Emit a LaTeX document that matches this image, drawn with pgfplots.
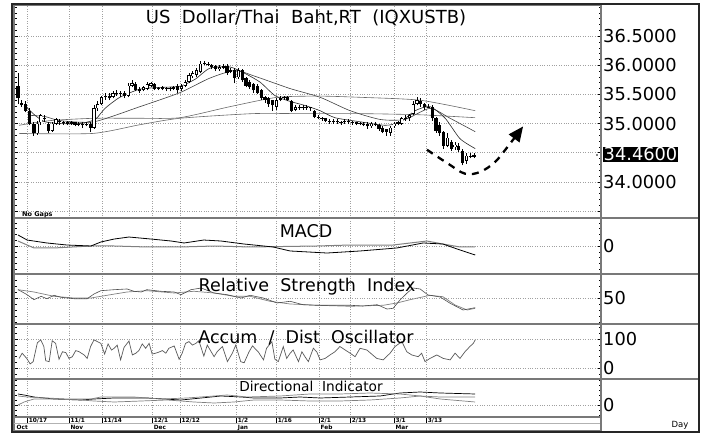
\documentclass[border=0pt]{standalone}
\usepackage{fontspec}
\setmainfont{DejaVu Sans}
\usepackage{pgfplots}
\usepackage{pgfplotstable}
\pgfplotsset{compat=1.18}
\usetikzlibrary{arrows.meta}

\definecolor{gridgray}{RGB}{160,160,160}
\definecolor{framegray}{RGB}{120,120,120}
\definecolor{magray}{RGB}{105,105,105}

\newcommand{\lbl}{\fontsize{17.5pt}{18pt}\selectfont}
\newcommand{\ttllbl}{\fontsize{18pt}{18pt}\selectfont}
\newcommand{\ticklbl}{\fontsize{17.8pt}{18pt}\selectfont}
\newcommand{\dilbl}{\fontsize{13.7pt}{14pt}\selectfont}
\newcommand{\datefont}{\fontsize{5.8pt}{6pt}\selectfont\bfseries}

% daily candles: index, open, high, low, close
\pgfplotstableread{
i o h l c
0 35.65 35.86 35.34 35.43
1 35.36 35.40 35.28 35.31
2 35.34 35.38 35.19 35.22
3 35.22 35.26 34.97 35.00
4 35.00 35.03 34.79 34.83
5 34.83 35.05 34.81 35.00
6 35.02 35.17 34.98 35.14
7 35.10 35.14 35.03 35.07
8 35.00 35.03 34.84 34.88
9 34.88 35.03 34.86 35.00
10 35.00 35.10 34.98 35.07
11 35.05 35.07 34.98 35.02
12 35.02 35.05 34.98 35.01
13 35.02 35.05 34.97 35.00
14 35.00 35.05 34.98 35.03
15 35.02 35.03 34.95 34.98
16 34.98 35.02 34.95 35.00
17 35.00 35.02 34.93 34.97
18 34.97 35.03 34.95 35.00
19 35.00 35.02 34.86 34.93
20 34.93 35.31 34.91 35.26
21 35.26 35.38 35.22 35.34
22 35.33 35.48 35.31 35.45
23 35.45 35.52 35.41 35.48
24 35.48 35.52 35.40 35.43
25 35.45 35.55 35.43 35.52
26 35.50 35.57 35.48 35.53
27 35.53 35.55 35.45 35.50
28 35.52 35.55 35.43 35.47
29 35.48 35.69 35.45 35.65
30 35.64 35.74 35.62 35.69
31 35.67 35.71 35.55 35.57
32 35.60 35.62 35.52 35.55
33 35.57 35.64 35.55 35.62
34 35.60 35.71 35.57 35.67
35 35.65 35.72 35.62 35.69
36 35.67 35.69 35.57 35.60
37 35.60 35.62 35.57 35.59
38 35.60 35.64 35.57 35.62
39 35.60 35.62 35.55 35.59
40 35.59 35.62 35.55 35.60
41 35.60 35.64 35.57 35.62
42 35.65 35.67 35.53 35.57
43 35.59 35.67 35.55 35.64
44 35.64 35.74 35.62 35.71
45 35.71 35.86 35.69 35.83
46 35.81 35.90 35.78 35.86
47 35.83 35.95 35.79 35.91
48 35.88 36.07 35.86 36.03
49 36.03 36.07 36.00 36.02
50 36.02 36.05 35.98 36.00
51 36.00 36.02 35.93 35.97
52 35.98 36.00 35.90 35.93
53 35.93 36.00 35.90 35.97
54 35.95 36.02 35.93 35.98
55 35.98 36.02 35.83 35.86
56 35.88 35.95 35.86 35.91
57 35.91 35.95 35.69 35.78
58 35.79 35.95 35.76 35.91
59 35.91 35.93 35.71 35.74
60 35.78 35.79 35.62 35.65
61 35.71 35.74 35.59 35.62
62 35.67 35.69 35.53 35.57
63 35.64 35.67 35.50 35.53
64 35.57 35.59 35.40 35.43
65 35.45 35.48 35.36 35.40
66 35.43 35.45 35.29 35.33
67 35.40 35.41 35.22 35.31
68 35.28 35.43 35.24 35.40
69 35.41 35.47 35.38 35.43
70 35.43 35.48 35.40 35.45
71 35.45 35.47 35.38 35.41
72 35.38 35.40 35.19 35.22
73 35.24 35.31 35.21 35.28
74 35.28 35.31 35.24 35.26
75 35.26 35.31 35.24 35.28
76 35.28 35.31 35.24 35.27
77 35.28 35.29 35.22 35.26
78 35.22 35.24 35.09 35.12
79 35.12 35.14 35.07 35.10
80 35.10 35.12 35.05 35.09
81 35.09 35.10 35.02 35.05
82 35.05 35.07 35.00 35.03
83 35.03 35.07 35.00 35.05
84 35.05 35.07 35.00 35.03
85 35.03 35.05 34.98 35.02
86 35.02 35.07 35.00 35.05
87 35.05 35.07 35.00 35.03
88 35.03 35.05 34.98 35.02
89 35.02 35.03 34.97 35.00
90 35.00 35.03 34.97 35.01
91 35.00 35.02 34.95 34.98
92 35.00 35.02 34.91 34.95
93 34.95 35.02 34.93 35.00
94 35.00 35.02 34.95 34.98
95 34.98 35.00 34.88 34.91
96 34.93 34.95 34.83 34.86
97 34.90 34.91 34.79 34.86
98 34.84 34.95 34.79 34.93
99 34.95 35.02 34.93 35.00
100 35.00 35.05 34.97 35.02
101 35.00 35.12 34.98 35.09
102 35.07 35.14 35.05 35.10
103 35.09 35.17 35.05 35.14
104 35.17 35.38 35.14 35.34
105 35.33 35.45 35.31 35.40
106 35.38 35.43 35.29 35.33
107 35.33 35.36 35.24 35.28
108 35.29 35.33 35.26 35.28
109 35.28 35.31 35.05 35.09
110 35.09 35.12 34.84 34.88
111 34.98 35.02 34.79 34.83
112 34.86 34.88 34.57 34.62
113 34.62 34.83 34.59 34.76
114 34.69 34.72 34.53 34.57
115 34.59 34.69 34.55 34.64
116 34.62 34.66 34.52 34.55
117 34.53 34.57 34.28 34.33
118 34.36 34.50 34.31 34.45
119 34.43 34.50 34.40 34.45
120 34.43 34.50 34.40 34.46
}\candles

\pgfplotsset{
  panel/.style={
    scale only axis, width=587pt, anchor=north west,
    xmin=-1.05, xmax=153.4,
    xtick={2.4,13.4,22.1,35.3,42.6,57.4,67.9,79.2,87.4,98.9,107.4},
    xticklabels={},
    xmajorgrids, ymajorgrids,
    grid style={gridgray, dotted, line width=0.6pt},
    axis line style={framegray, line width=1.3pt},
    xtick style={draw=none},
    ytick style={black, line width=0.5pt},
    tick align=inside, major tick length=3.5pt, minor tick length=2.5pt,
    yticklabel pos=right, ytick pos=both,
    yticklabel style={anchor=west, inner sep=0pt, xshift=2pt, font=\ticklbl},
  },
  maline/.style={line width=0.6pt, smooth, tension=0.4},
}

\begin{document}
\begin{tikzpicture}[x=1pt, y=1pt]
\path (0,0) rectangle (712,-435);

% ---- price panel
\begin{axis}[panel, name=main, at={(14pt,-5pt)}, height=213pt,
  ymin=33.379, ymax=37.034,
  ytick={33.5,34,34.5,35,35.5,36,36.5},
  yticklabels={,34.0000,,35.0000,35.5000,36.0000,36.5000},
  minor ytick={33.4,33.5,...,37.0}]
  % moving averages
  \addplot[maline, magray] coordinates {
    (0.3,34.83) (19.7,34.83) (32.1,34.98) (42.6,35.09) (61.8,35.17)
    (74.2,35.17) (90.0,35.17) (105.8,35.15) (120.3,35.10)};
  \addplot[maline, magray] coordinates {
    (0.3,34.97) (8.4,35.05) (20.0,35.09) (32.1,35.09) (42.6,35.10)
    (55.8,35.29) (68.2,35.45) (79.5,35.47) (90.0,35.45) (105.8,35.40) (120.3,35.22)};
  \addplot[maline, black!75] coordinates {
    (3.2,35.14) (7.1,35.12) (11.1,35.05) (20.0,35.03) (32.1,35.29) (42.6,35.53)
    (50.5,35.78) (57.1,35.91) (62.4,35.81) (71.6,35.60) (79.5,35.45) (87.4,35.22)
    (95.3,35.07) (101.8,35.07) (108.4,35.26) (113.7,35.09) (120.3,34.86)};
  \addplot[maline, black!85] coordinates {
    (1.8,35.31) (4.5,35.14) (7.1,35.03) (11.1,35.00) (16.3,35.00) (20.3,35.07)
    (22.9,35.26) (26.8,35.45) (32.1,35.59) (37.4,35.62) (42.6,35.64) (46.6,35.76)
    (50.5,35.95) (55.8,35.97) (59.7,35.86) (63.7,35.71) (67.6,35.48) (71.6,35.38)
    (75.5,35.31) (79.5,35.22) (83.4,35.10) (90.0,35.03) (96.6,34.97) (100.5,35.02)
    (104.5,35.22) (108.4,35.29) (112.4,35.09) (116.3,34.74) (120.3,34.57)};
  % wicks
  \addplot[draw=none, mark=none, error bars/.cd, y dir=plus, y explicit,
    error mark=none, error bar style={draw=black, line width=0.8pt}]
    table[x=i, y=l, y error expr=\thisrow{h}-\thisrow{l}] {\candles};
  % bodies
  \addplot[draw=none, mark=none, error bars/.cd, y dir=plus, y explicit,
    error mark=none, error bar style={draw=black, line width=3.2pt}]
    table[x=i, y expr={min(\thisrow{o},\thisrow{c})},
      y error expr={max(abs(\thisrow{o}-\thisrow{c}),0.012)}] {\candles};
  % hollow centres of rising candles
  \addplot[draw=none, mark=none, error bars/.cd, y dir=plus, y explicit,
    error mark=none, error bar style={draw=white, line width=1.6pt}]
    table[x=i, y expr={(\thisrow{c}-\thisrow{o}>0.03) ? \thisrow{o}+0.014 : nan},
      y error expr={\thisrow{c}-\thisrow{o}-0.028}] {\candles};
  % hand-drawn forecast arrow
  \addplot[black, line width=2.3pt, dash pattern=on 7pt off 6pt, smooth, tension=0.6,
    -{Triangle[length=15pt, width=13pt]}] coordinates {
    (107.6,34.55) (113.2,34.31) (117.6,34.14) (121.6,34.17) (125.5,34.34)
    (128.7,34.59) (132.9,34.95)};
\end{axis}

% ---- MACD
\begin{axis}[panel, name=macd, at={(main.south west)}, height=56pt,
  ymin=-0.483, ymax=0.483, ytick={0}, yticklabels={0},
  minor ytick={-0.4,-0.3,...,0.4}]
  \addplot[line width=1pt, gray] coordinates {
    (0,0.086) (4.2,-0.034) (9.5,-0.034) (19.2,0) (25.3,0) (33.9,-0.017)
    (42.9,-0.017) (51.6,0) (61.1,-0.017) (78.7,0) (87.4,0.017) (98.7,0.017)
    (107.6,0.086) (111.8,0.034) (116.3,-0.017) (120.3,-0.017)};
  \addplot[line width=0.8pt, black] coordinates {
    (0,0.19) (2.4,0.103) (7.6,0.052) (12.9,0.017) (19.2,0) (21.8,0.069)
    (25.3,0.12) (29.2,0.155) (35.0,0.12) (40.3,0.086) (43.7,0.052) (48.9,0.103)
    (53.4,0.086) (59.5,0.034) (62.1,0.017) (67.1,-0.017) (71.6,-0.086)
    (81.3,-0.121) (90.0,-0.086) (99.7,-0.034) (106.6,0.052) (111.8,0.034)
    (116.3,-0.069) (120.3,-0.155)};
\end{axis}

% ---- RSI
\begin{axis}[panel, name=rsi, at={(macd.south west)}, height=50pt,
  ymin=-4.2, ymax=100, ytick={50}, yticklabels={50},
  minor ytick={0,12.5,...,100}]
  \addplot[line width=0.7pt, gray] coordinates {
    (0,67.3) (4.2,62.5) (9.5,53.5) (14.7,50) (19.2,50) (23.4,55.6) (28.7,62.5)
    (33.9,65.2) (41.1,60.4) (46.3,64) (51.6,60.4) (56.8,53.5) (61.1,53.5)
    (66.3,43.1) (71.6,37.5) (78.7,34.8) (87.4,32.7) (96.1,34.8) (99.7,39.6)
    (103.2,46.5) (108.4,55.6) (111.8,52.7) (115.0,35.4) (118.2,25) (120.3,28.5)};
  \addplot[line width=0.6pt, black!70] coordinates {
    (0,67.3) (0.8,64) (2.4,56.9) (4.2,46.5) (6.1,53.5) (7.6,48.5) (9.5,55.6)
    (11.3,51.5) (12.9,50) (14.7,48.5) (18.2,48.5) (20.0,58.3) (21.8,65.2)
    (25.3,67.3) (28.7,68.8) (30.5,64) (32.4,62.5) (33.9,67.3) (37.6,64)
    (41.1,62.5) (42.9,56.9) (45.5,67.3) (48.2,70.8) (51.6,60.4) (55.0,56.9)
    (58.7,50) (61.1,55.6) (64.5,50) (68.2,39.6) (71.6,43.1) (75.0,36)
    (78.7,34.8) (83.9,34.8) (87.4,34.8) (90.8,33.3) (94.5,36) (97.1,27)
    (98.7,28.5) (100.5,45.8) (102.4,60.4) (103.9,70.8) (105.8,68.8)
    (107.9,56.3) (111.1,52) (113.7,39) (117.1,25) (120.3,29.8)};
\end{axis}

% ---- Accumulation / distribution oscillator
\begin{axis}[panel, name=ad, at={(rsi.south west)}, height=55pt,
  ymin=-37.9, ymax=151.7, ytick={0,100}, yticklabels={0,100},
  minor ytick={-20,20,40,60,80,120,140}]
  \addplot[line width=0.7pt, black!65] coordinates {
    (0.3,33) (1.1,51) (2.3,33) (3.2,14) (4.0,22) (5.1,87) (6.0,97) (6.8,74)
    (7.3,25) (8.2,22) (9.0,94) (9.9,85) (10.8,30) (11.7,56) (12.6,53) (13.4,33)
    (14.3,39) (15.2,60) (16.1,56) (17.4,45) (18.2,33) (19.1,74) (20.0,97)
    (20.9,91) (21.8,85) (22.8,48) (23.7,83) (24.6,62) (25.3,68) (26.1,79)
    (27.0,28) (27.9,71) (29.2,93) (30.1,45) (31.0,51) (31.8,60) (32.7,83)
    (33.6,68) (34.5,85) (35.3,48) (36.2,51) (37.1,55) (38.0,60) (38.9,51)
    (39.7,68) (41.1,76) (42.4,30) (43.2,51) (44.1,85) (45.0,91) (45.9,79)
    (46.8,85) (47.6,94) (48.9,41) (49.8,79) (51.6,39) (52.4,56) (53.8,74)
    (55.1,22) (56.4,51) (57.3,79) (58.6,22) (59.5,18) (60.8,56) (61.7,76)
    (63.2,56) (64.6,28) (65.4,68) (66.8,91) (67.6,30) (68.5,22) (69.8,74)
    (70.7,33) (71.6,51) (72.4,62) (73.8,22) (74.7,56) (75.5,39) (76.4,22)
    (77.7,68) (78.6,56) (79.5,28) (80.8,33) (82.1,45) (83.4,56) (84.7,74)
    (86.1,62) (87.4,51) (88.7,39) (90.0,68) (91.8,62) (94.4,33) (96.1,28)
    (97.9,51) (99.2,74) (101.0,91) (102.3,56) (103.6,45) (105.3,39) (106.2,51)
    (107.1,22) (108.4,33) (110.2,45) (111.9,33) (113.7,28) (115.0,51)
    (116.3,33) (117.6,56) (118.9,74) (119.8,85) (120.3,97)};
\end{axis}

% ---- Directional indicator
\begin{axis}[panel, name=di, at={(ad.south west)}, height=38pt,
  ymin=-24, ymax=52, ytick={0}, yticklabels={0},
  minor ytick={-20,-10,10,20,30,40,50}]
  \addplot[line width=0.7pt, black] coordinates {
    (0,22) (1.6,20) (4.2,16) (9.5,12) (16.6,10) (20.0,12) (25.3,14) (33.9,14)
    (42.9,10) (48.2,14) (53.4,18) (58.7,16) (62.1,14) (69.0,14) (74.2,16)
    (79.5,14) (87.4,16) (95.3,18) (100.5,24) (105.8,26) (111.1,24) (120.3,22)};
  \addplot[line width=0.7pt, gray] coordinates {
    (0,18) (2.4,16) (7.6,14) (12.9,12) (19.2,12) (21.8,16) (25.3,16) (30.5,16)
    (37.6,12) (44.5,14) (51.6,18) (55.0,20) (60.3,16) (69.0,18) (76.8,22)
    (84.7,22) (92.6,24) (100.5,22) (105.8,18) (111.1,16) (120.3,16)};
  \addplot[line width=0.7pt, gray] coordinates {
    (0,0) (1.6,6) (4.2,12) (9.5,12) (16.6,10) (20.0,8) (25.3,6) (32.4,8)
    (39.2,10) (42.9,8) (46.3,6) (51.6,4) (56.8,6) (62.1,10) (69.0,10) (76.8,8)
    (84.7,8) (92.6,10) (100.5,14) (105.8,18) (111.1,12) (120.3,6)};
\end{axis}

% ---- date strip
\begin{axis}[scale only axis, width=587pt, height=14pt, anchor=north west,
  at={(di.south west)},
  xmin=-1.05, xmax=153.4, ymin=0, ymax=1, ytick=\empty,
  axis line style={framegray, line width=1.3pt},
  xtick={2.4,13.4,22.1,35.3,42.6,57.4,67.9,79.2,87.4,98.9,107.4},
  xticklabels={10/17,11/1,11/14,12/1,12/12,1/2,1/16,2/1,2/13,3/1,3/13},
  xtick pos=right, xticklabel pos=left,
  tick align=inside, major tick length=6pt, xtick style={black, line width=0.7pt},
  xticklabel style={anchor=west, inner sep=0pt, xshift=1.5pt, yshift=10.5pt, font=\datefont},
  extra x ticks={-0.8,13.4,35.3,57.4,79.2,98.9},
  extra x tick labels={Oct,Nov,Dec,Jan,Feb,Mar},
  extra x tick style={tick style={draw=none}, xticklabel style={yshift=-7pt}}]
  \addplot[draw=none] coordinates {(0,0)};
\end{axis}

% separators, frame and labels
\draw[gray!60, line width=0.8pt] (14,-423) -- (601,-423);
\foreach \yy in {218,274,324,379}
  \draw[framegray, line width=1.3pt] (601,-\yy) -- (699,-\yy);
\draw[framegray, line width=1.3pt] (601,-5) -- (601,-432);
\draw[black!85, line width=2pt] (12,-4) rectangle (699,-432);

\node[fill=black, text=white, font=\ticklbl, inner xsep=1pt, inner ysep=0pt,
  minimum height=15pt, anchor=west] at (602.5,-154.2) {34.4600};
\fill (597,-155) circle (0.8);

\node[font=\ttllbl, anchor=base] at (306,-24) {US\ \ Dollar/Thai\ \ Baht,RT\ \ (IQXUSTB)};
\node[font=\lbl, anchor=base] at (306,-237.5) {MACD};
\node[font=\lbl, anchor=base] at (307,-291.5) {Relative\ \ Strength\ \ Index};
\node[font=\lbl, anchor=base] at (306,-344) {Accum\ \ /\ \ Dist\ \ Oscillator};
\node[font=\dilbl, anchor=base] at (311,-391.5) {Directional\ \ Indicator};
\node[font=\fontsize{6.5pt}{7pt}\selectfont\bfseries, anchor=base west, inner sep=0pt]
  at (22,-217) {No\ Gaps};
\node[font=\fontsize{8.5pt}{9pt}\selectfont, anchor=base] at (680,-427) {Day};
\end{tikzpicture}
\end{document}
